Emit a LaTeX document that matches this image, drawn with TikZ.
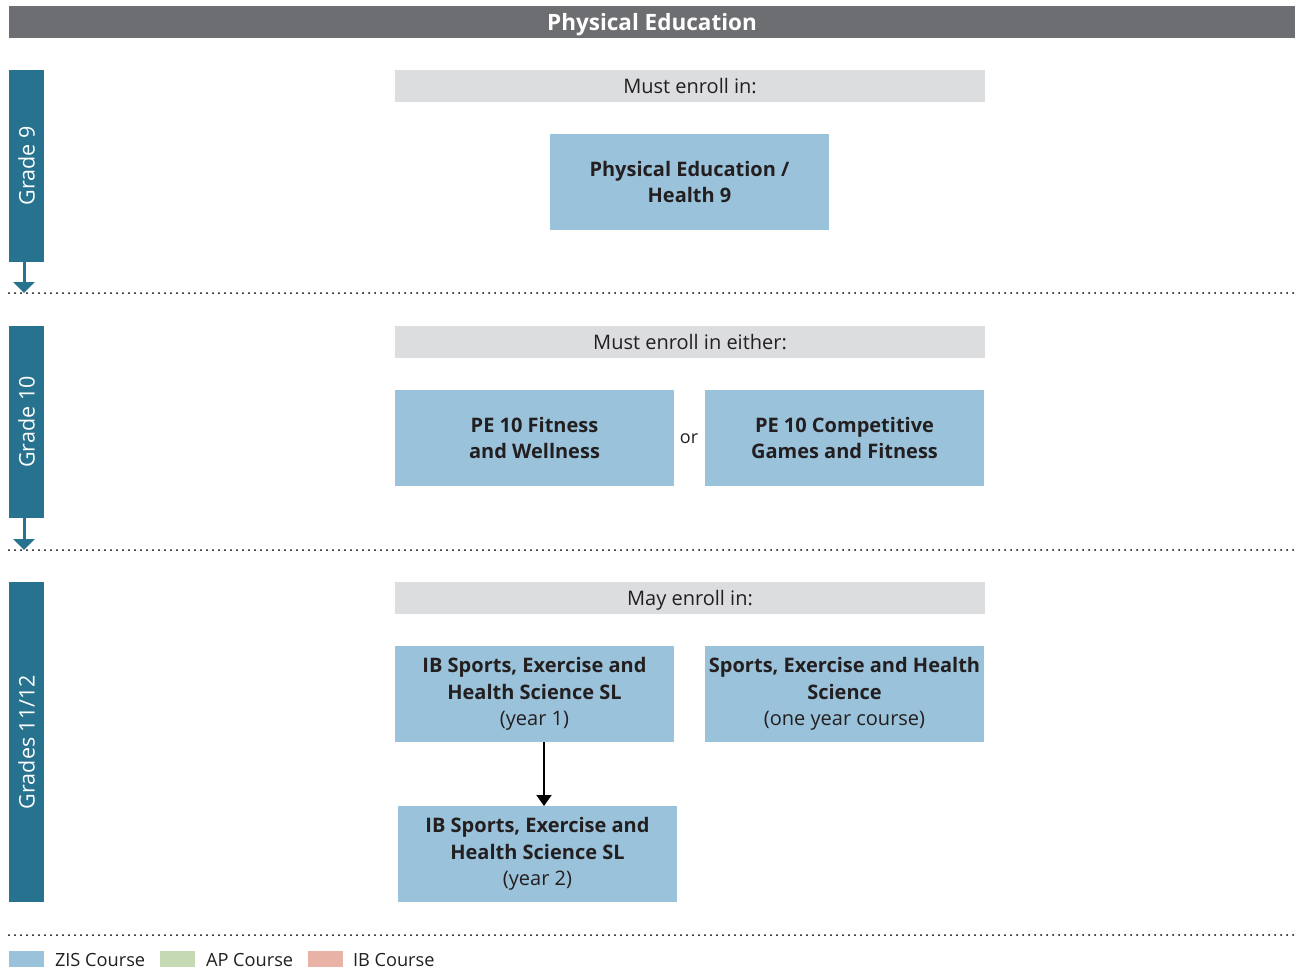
\documentclass[tikz,border=0pt]{standalone}
\usepackage{fontspec}
\setmainfont{Open Sans}
\usetikzlibrary{arrows.meta}
\definecolor{titlegrey}{HTML}{6D6E71}
\definecolor{gradeteal}{HTML}{27728F}
\definecolor{bargrey}{HTML}{DCDDDF}
\definecolor{zisblue}{HTML}{9AC2DA}
\definecolor{apgreen}{HTML}{C5D9B5}
\definecolor{ibred}{HTML}{E8B3A6}
\definecolor{ink}{HTML}{231F20}
\begin{document}
\begin{tikzpicture}[x=1pt,y=-1pt,
  every node/.style={inner sep=0pt, outer sep=0pt, text=ink},
  titlebar/.style={fill=titlegrey, minimum width=1286pt, minimum height=32pt,
    text=white, font=\fontsize{22.5}{26}\selectfont\bfseries,
    text height=16pt, text depth=0pt},
  gradebar/.style={fill=gradeteal, minimum width=35pt, text=white,
    font=\fontsize{21.5}{25}\selectfont, rotate=90},
  headbar/.style={fill=bargrey, minimum width=590pt, minimum height=32pt,
    font=\fontsize{20}{24}\selectfont, text height=15pt, text depth=1pt},
  course/.style={fill=zisblue, minimum width=279pt, minimum height=96pt,
    align=center, font=\fontsize{20}{26.5}\selectfont\bfseries},
  swatch/.style={minimum width=35pt, minimum height=16pt},
  legendtext/.style={anchor=west, font=\fontsize{18.2}{21}\selectfont},
  gradearrow/.style={draw=gradeteal, line width=3pt,
    -{Triangle[width=21pt,length=11pt]}},
  flowarrow/.style={draw=black, line width=2pt,
    -{Triangle[width=15pt,length=11pt]}},
  separator/.style={draw=black, line width=2pt, line cap=round,
    dash pattern=on 0pt off 6pt}]
\useasboundingbox (0,0) rectangle (1308,972);

% heading
\node[titlebar] (title) at (652,22) {Physical Education};

% grade bars
\node[gradebar, minimum width=192pt, minimum height=35pt] (g9) at (26.5,166) {Grade 9};
\node[gradebar, minimum width=192pt, minimum height=35pt] (g10) at (26.5,422) {Grade 10};
\node[gradebar, minimum width=320pt, minimum height=35pt] (g11) at (26.5,742) {Grades 11/12};

% separators
\coordinate (s1l) at (9,293);   \coordinate (s1r) at (1295,293);
\coordinate (s2l) at (9,550);   \coordinate (s2r) at (1295,550);
\coordinate (s3l) at (9,935);   \coordinate (s3r) at (1295,935);
\draw[separator] (s1l) -- (s1r);
\draw[separator] (s2l) -- (s2r);
\draw[separator] (s3l) -- (s3r);

% arrows from grade bars down to the separators
\coordinate (a9) at (24,293);
\coordinate (a10) at (24,550);
\draw[gradearrow] (g9.west -| a9) -- (a9);
\draw[gradearrow] (g10.west -| a10) -- (a10);

% grade 9
\node[headbar] (h9) at (690,86) {Must enroll in:};
\node[course] (pe9) at (689.5,182) {Physical Education /\\Health 9};

% grade 10
\node[headbar] (h10) at (690,342) {Must enroll in either:};
\node[course] (pe10a) at (534.5,438) {PE 10 Fitness\\and Wellness};
\node[course] (pe10b) at (844.5,438) {PE 10 Competitive\\Games and Fitness};
\node[font=\fontsize{18}{21}\selectfont] (or) at (689,439) {or};

% grades 11/12
\node[headbar] (h11) at (690,598) {May enroll in:};
\node[course] (ib1) at (534.5,694) {IB Sports, Exercise and\\Health Science SL\\{\mdseries (year 1)}};
\node[course] (sehs) at (844.5,694) {Sports, Exercise and Health\\Science\\{\mdseries (one year course)}};
\node[course] (ib2) at (537.5,854) {IB Sports, Exercise and\\Health Science SL\\{\mdseries (year 2)}};
\draw[flowarrow] (ib1.south -| 544,0) -- (ib2.north -| 544,0);

% legend
\node[swatch, fill=zisblue] (kz) at (26.5,959) {};
\node[legendtext] (kzt) at (55,960) {ZIS Course};
\node[swatch, fill=apgreen] (ka) at (177.5,959) {};
\node[legendtext] (kat) at (206,960) {AP Course};
\node[swatch, fill=ibred] (ki) at (325.5,959) {};
\node[legendtext] (kit) at (353,960) {IB Course};
\end{tikzpicture}
\end{document}
